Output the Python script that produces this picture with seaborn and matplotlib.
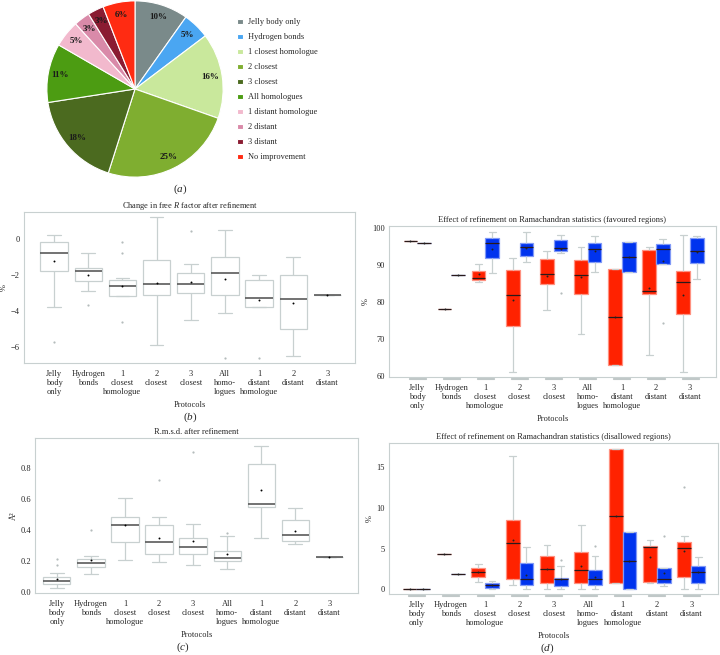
import pandas as pd
import seaborn as sns
import matplotlib.pyplot as plt
import matplotlib.transforms as mtransforms
from matplotlib.colors import to_rgb

protocols = ["Jelly body only", "Hydrogen bonds", "1 closest homologue", "2 closest", "3 closest",
             "All homologues", "1 distant homologue", "2 distant", "3 distant"]
tick_labels = ["Jelly\nbody\nonly", "Hydrogen\nbonds", "1\nclosest\nhomologue", "2\nclosest", "3\nclosest",
               "All\nhomo-\nlogues", "1\ndistant\nhomologue", "2\ndistant", "3\ndistant"]

# (a) best protocol per structure
pie_labels = protocols + ["No improvement"]
pie_pct = [10, 5, 16, 25, 18, 11, 5, 3, 3, 6]
pie_colors = ["#7a8a8a", "#4aa6f2", "#c9e89c", "#7fae30", "#4b6a1f",
              "#4c9c12", "#f2b9cd", "#d98aa9", "#8a1c32", "#ff2b12"]

# (b) change in free R (%): whisker low, q1, median, q3, whisker high, mean
rfree_lo = [-3.80, -2.90, -3.17, -5.92, -4.50, -4.10, -3.80, -6.52, -3.09]
rfree_q1 = [-1.77, -2.33, -3.17, -3.13, -3.02, -3.13, -3.80, -5.03, -3.09]
rfree_med = [-0.78, -1.77, -2.59, -2.53, -2.53, -1.90, -3.30, -3.33, -3.09]
rfree_q3 = [-0.17, -1.64, -2.29, -1.19, -1.92, -1.00, -2.29, -2.03, -3.09]
rfree_hi = [0.24, -0.78, -2.18, 1.23, -1.40, 0.52, -1.99, -0.99, -3.09]
rfree_mean = [-1.25, -2.03, -2.63, -2.44, -2.40, -2.23, -3.41, -3.54, -3.09]
rfree_out = [[-5.72], [-3.69], [-0.17, -0.78, -4.6], [], [0.45], [-6.6], [-6.6], [], []]

# (c) r.m.s.d. after refinement (A^2)
rmsd_lo = [0.03, 0.12, 0.21, 0.195, 0.175, 0.15, 0.35, 0.31, 0.225]
rmsd_q1 = [0.05, 0.165, 0.325, 0.245, 0.245, 0.20, 0.545, 0.33, 0.225]
rmsd_med = [0.075, 0.19, 0.43, 0.32, 0.29, 0.22, 0.565, 0.37, 0.225]
rmsd_q3 = [0.10, 0.215, 0.48, 0.43, 0.345, 0.265, 0.82, 0.465, 0.225]
rmsd_hi = [0.125, 0.235, 0.605, 0.485, 0.435, 0.36, 0.94, 0.54, 0.225]
rmsd_mean = [0.085, 0.21, 0.43, 0.35, 0.33, 0.245, 0.655, 0.395, 0.225]
rmsd_out = [[0.175, 0.215], [0.40], [], [0.72], [0.90], [0.38], [], [], []]

# (d) Ramachandran favoured (%), before (red) and after (blue) refinement
fav_before_lo = [96.4, 78.1, 85.3, 61.2, 77.9, 71.5, 63.1, 65.8, 61.2]
fav_before_q1 = [96.4, 78.1, 86.0, 73.5, 84.8, 82.3, 63.1, 82.1, 76.7]
fav_before_med = [96.4, 78.1, 86.5, 81.8, 87.5, 87.2, 76.1, 83.0, 85.4]
fav_before_q3 = [96.4, 78.1, 88.4, 88.7, 91.6, 91.4, 89.0, 94.0, 88.3]
fav_before_hi = [96.4, 78.1, 90.3, 91.8, 93.7, 94.9, 89.0, 94.9, 98.0]
fav_before_mean = [96.4, 78.1, 87.5, 80.5, 87.0, 86.7, 76.1, 83.7, 82.0]
fav_before_out = [[], [], [], [], [], [], [], [], []]
fav_after_lo = [95.8, 87.3, 87.7, 90.8, 93.2, 88.1, 88.2, 90.2, 86.1]
fav_after_q1 = [95.8, 87.3, 91.9, 92.3, 93.8, 90.9, 88.2, 90.2, 90.6]
fav_after_med = [95.8, 87.3, 95.8, 94.8, 94.7, 94.2, 92.1, 94.4, 93.8]
fav_after_q3 = [95.8, 87.3, 97.3, 95.8, 96.7, 95.8, 96.1, 95.7, 97.3]
fav_after_hi = [95.8, 87.3, 98.8, 98.8, 98.2, 97.7, 96.1, 96.9, 97.9]
fav_after_mean = [95.8, 87.3, 94.2, 94.5, 94.4, 93.7, 92.1, 91.0, 93.4]
fav_after_out = [[], [], [], [], [82.4], [], [], [74.3], []]

# (d) Ramachandran disallowed (%)
dis_before_lo = [0, 4.3, 0.82, 0.49, 0, 0, 0.78, 0.74, 0]
dis_before_q1 = [0, 4.3, 1.48, 1.23, 0.78, 0.74, 0.78, 0.86, 1.52]
dis_before_med = [0, 4.3, 2.1, 5.74, 2.5, 2.34, 9.0, 5.16, 5.04]
dis_before_q3 = [0, 4.3, 2.66, 8.48, 4.14, 4.55, 17.25, 5.37, 5.86]
dis_before_hi = [0, 4.3, 3.1, 16.4, 5.45, 7.9, 17.25, 6.1, 6.5]
dis_before_mean = [0, 4.3, 2.05, 6.1, 2.54, 2.9, 9.0, 3.93, 4.67]
dis_before_out = [[], [], [], [], [], [], [], [], [12.6]]
dis_after_lo = [0, 1.84, 0, 0, 0, 0, 0, 0.37, 0]
dis_after_q1 = [0, 1.84, 0.2, 0.57, 0.41, 0.53, 0, 0.7, 0.74]
dis_after_med = [0, 1.84, 0.5, 1.23, 1.23, 1.23, 3.52, 1.23, 2.13]
dis_after_q3 = [0, 1.84, 0.74, 3.16, 1.43, 2.34, 7.05, 2.62, 2.87]
dis_after_hi = [0, 1.84, 0.94, 5.16, 2.79, 4.14, 7.05, 2.62, 3.9]
dis_after_mean = [0, 1.84, 0.5, 1.8, 1.23, 1.52, 3.52, 2.0, 2.05]
dis_after_out = [[], [], [], [], [3.57], [5.33], [], [6.5], []]

sns.set_theme(style="white")
plt.rcParams["font.family"] = ["Liberation Serif", "DejaVu Serif"]
plt.rcParams["mathtext.fontset"] = "custom"
plt.rcParams["mathtext.rm"] = "Liberation Serif"
plt.rcParams["mathtext.it"] = "Liberation Serif:italic"

GRID = "#c8d0d0"
RED, BLUE = "#ff2200", "#0033ee"


def five_num(lo, q1, med, q3, hi, stage=None):
    # 5 values whose quartiles are exactly q1/med/q3 and whose range is lo..hi
    rows = []
    for i, p in enumerate(protocols):
        for v in (lo[i], q1[i], med[i], q3[i], hi[i]):
            rows.append({"protocol": p, "value": v, "stage": stage})
    return pd.DataFrame(rows)


def points(vals, stage=None):
    rows = [{"protocol": p, "value": v, "stage": stage} for p, v in zip(protocols, vals)]
    return pd.DataFrame(rows, columns=["protocol", "value", "stage"])


def outliers(lists, stage=None):
    rows = [{"protocol": p, "value": v, "stage": stage} for p, vs in zip(protocols, lists) for v in vs]
    return pd.DataFrame(rows, columns=["protocol", "value", "stage"])


def style_axes(ax, title, ylabel, ylim, yticks, xlim, yfmt="{:g}"):
    ax.set_title(title, fontsize=6, pad=3)
    ax.set_ylabel(ylabel, fontsize=6, labelpad=2)
    ax.set_xlabel("Protocols", fontsize=6, labelpad=3)
    ax.set_xticks(range(len(protocols)), tick_labels)
    ax.set_yticks(yticks, [yfmt.format(t).replace("-", "\u2212") for t in yticks])
    ax.tick_params(axis="both", length=0, labelsize=6)
    ax.tick_params(axis="x", pad=5)
    ax.tick_params(axis="y", pad=3)
    ax.set_ylim(ylim)
    ax.set_xlim(xlim)
    for s in ax.spines.values():
        s.set_color(GRID)
        s.set_linewidth(0.8)


def single_panel(ax, box, means, outs):
    sns.boxplot(data=box, x="protocol", y="value", order=protocols, color="white",
                linecolor=GRID, whis=(0, 100), showfliers=False, width=0.8, linewidth=0.9,
                medianprops=dict(color="#5a5a5a", linewidth=1.2), ax=ax)
    sns.stripplot(data=outs, x="protocol", y="value", order=protocols, color="#b4bcbc",
                  size=1.6, jitter=False, ax=ax)
    sns.stripplot(data=means, x="protocol", y="value", order=protocols, color="black",
                  size=1.4, jitter=False, ax=ax)


def paired_panel(ax, box, means, outs):
    pal = {"before": RED, "after": BLUE}
    sns.boxplot(data=box, x="protocol", y="value", hue="stage", order=protocols,
                hue_order=["before", "after"], palette=pal, saturation=1, linecolor=GRID,
                whis=(0, 100), showfliers=False, width=0.8, gap=0, linewidth=0.9,
                medianprops=dict(color="#2a1a1a", linewidth=0.9), legend=False, ax=ax)
    for patch in ax.patches:
        r, g, b = to_rgb(patch.get_facecolor()[:3])
        patch.set_edgecolor((r + (1 - r) * 0.5, g + (1 - g) * 0.5, b + (1 - b) * 0.5))
    grey = {"before": "#b4bcbc", "after": "#b4bcbc"}
    sns.stripplot(data=outs, x="protocol", y="value", hue="stage", order=protocols,
                  hue_order=["before", "after"], palette=grey, dodge=True, size=1.6,
                  jitter=False, legend=False, ax=ax)
    blk = {"before": "#222222", "after": "#222222"}
    sns.stripplot(data=means, x="protocol", y="value", hue="stage", order=protocols,
                  hue_order=["before", "after"], palette=blk, dodge=True, size=1.4,
                  jitter=False, legend=False, ax=ax)
    # thin grey markers under each protocol, below the x axis
    trans = mtransforms.blended_transform_factory(ax.transData, ax.transAxes)
    ax.bar(range(len(protocols)), 0.012, bottom=-0.016, width=0.5, transform=trans,
           fill=False, edgecolor="#c0c8c8", linewidth=0.8, clip_on=False)


fig = plt.figure(figsize=(7.2, 6.55), dpi=100)

# (a) pie
ax_pie = fig.add_axes([46 / 720, (655 - 178) / 655, 178 / 720, 178 / 655])
total = sum(pie_pct)
wedges, _, autotexts = ax_pie.pie(
    pie_pct, colors=pie_colors, startangle=90, counterclock=False,
    wedgeprops=dict(edgecolor="white", linewidth=0.8),
    autopct=lambda p: f"{p * total / 100:.0f}%", pctdistance=0.86,
    textprops=dict(fontsize=6.5, fontweight="bold", color="#1a1a1a"))
ax_pie.set_aspect("equal")
ax_pie.set_xlim(-1.01, 1.01)
ax_pie.set_ylim(-1.01, 1.01)
fig.legend(wedges, pie_labels, loc="upper left", bbox_to_anchor=(234 / 720, 1 - 15 / 655),
           frameon=False, fontsize=6, handlelength=0.7, handleheight=0.7,
           handletextpad=0.6, labelspacing=0.84, borderaxespad=0)
fig.text(180 / 720, 1 - 189 / 655, r"($\mathit{a}$)", fontsize=8, ha="center", va="center")

# (b) free R
ax_b = fig.add_axes([24 / 720, (655 - 363) / 655, 331 / 720, 151 / 655])
single_panel(ax_b, five_num(rfree_lo, rfree_q1, rfree_med, rfree_q3, rfree_hi),
             points(rfree_mean), outliers(rfree_out))
style_axes(ax_b, r"Change in free $\mathit{R}$ factor after refinement", "%",
           (-6.9, 1.5), [-6, -4, -2, 0], (-0.88, 8.81))
fig.text(190 / 720, 1 - 417 / 655, r"($\mathit{b}$)", fontsize=8, ha="center", va="center")

# (c) rmsd
ax_c = fig.add_axes([35 / 720, (655 - 593) / 655, 323 / 720, 155 / 655])
single_panel(ax_c, five_num(rmsd_lo, rmsd_q1, rmsd_med, rmsd_q3, rmsd_hi),
             points(rmsd_mean), outliers(rmsd_out))
style_axes(ax_c, "R.m.s.d. after refinement", "\u00c5\u00b2",
           (-0.005, 0.99), [0, 0.2, 0.4, 0.6, 0.8], (-0.64, 8.84), yfmt="{:.1f}")
fig.text(183 / 720, 1 - 647 / 655, r"($\mathit{c}$)", fontsize=8, ha="center", va="center")

# (d) favoured
ax_f = fig.add_axes([389 / 720, (655 - 377) / 655, 327 / 720, 151 / 655])
paired_panel(ax_f,
             pd.concat([five_num(fav_before_lo, fav_before_q1, fav_before_med, fav_before_q3,
                                 fav_before_hi, "before"),
                        five_num(fav_after_lo, fav_after_q1, fav_after_med, fav_after_q3,
                                 fav_after_hi, "after")]),
             pd.concat([points(fav_before_mean, "before"), points(fav_after_mean, "after")]),
             pd.concat([outliers(fav_before_out, "before"), outliers(fav_after_out, "after")]))
style_axes(ax_f, "Effect of refinement on Ramachandran statistics (favoured regions)", "%",
           (59.8, 100.5), [60, 70, 80, 90, 100], (-0.83, 8.76))

# (d) disallowed
ax_d = fig.add_axes([389 / 720, (655 - 594) / 655, 329 / 720, 151 / 655])
paired_panel(ax_d,
             pd.concat([five_num(dis_before_lo, dis_before_q1, dis_before_med, dis_before_q3,
                                 dis_before_hi, "before"),
                        five_num(dis_after_lo, dis_after_q1, dis_after_med, dis_after_q3,
                                 dis_after_hi, "after")]),
             pd.concat([points(dis_before_mean, "before"), points(dis_after_mean, "after")]),
             pd.concat([outliers(dis_before_out, "before"), outliers(dis_after_out, "after")]))
style_axes(ax_d, "Effect of refinement on Ramachandran statistics (disallowed regions)", "%",
           (-0.6, 18.0), [0, 5, 10, 15], (-0.8, 8.78))
fig.text(547 / 720, 1 - 648 / 655, r"($\mathit{d}$)", fontsize=8, ha="center", va="center")

fig.savefig("out.png", dpi=100)
